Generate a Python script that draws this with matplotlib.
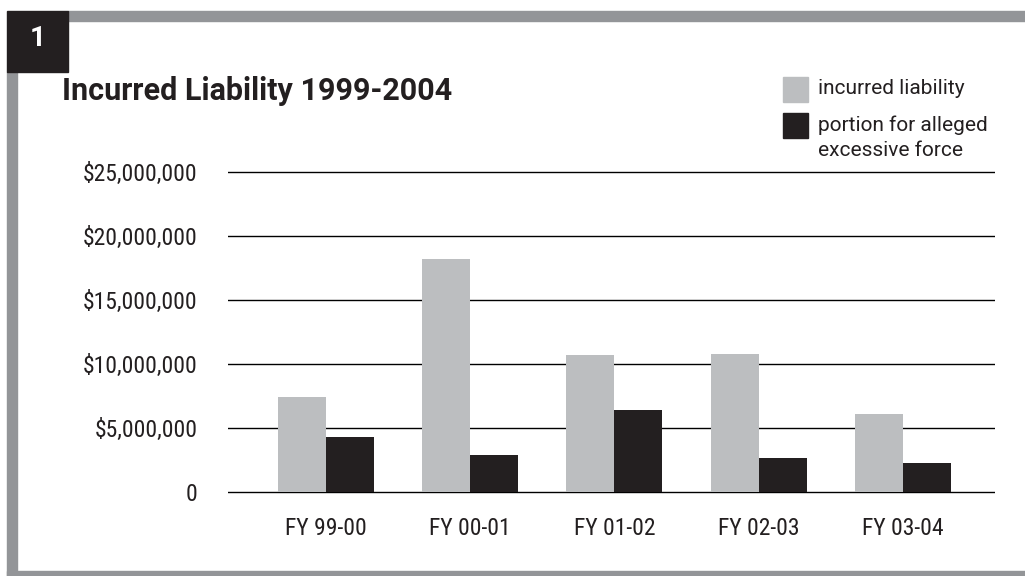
import matplotlib
matplotlib.use('Agg')
import matplotlib.pyplot as plt
from matplotlib.patches import Rectangle

years = ['FY 99-00', 'FY 00-01', 'FY 01-02', 'FY 02-03', 'FY 03-04']
incurred = [7.4e6, 18.2e6, 10.7e6, 10.8e6, 6.1e6]
excessive = [4.3e6, 2.9e6, 6.4e6, 2.65e6, 2.25e6]
yticks = [0, 5e6, 10e6, 15e6, 20e6, 25e6]
ytick_labels = ['0', r'\$5,000,000', r'\$10,000,000', r'\$15,000,000',
                r'\$20,000,000', r'\$25,000,000']
legend_labels = ['incurred liability', 'portion for alleged', 'excessive force']

plt.rcParams['font.family'] = ['Liberation Sans Narrow', 'Roboto Condensed', 'Roboto', 'DejaVu Sans']
wide = ['Roboto', 'DejaVu Sans']  # stands in for the letter-spaced headings

W, H = 1025, 576
light = '#bcbec0'
dark = '#231f20'
frame = '#939598'
txt = '#231f20'


def fx(x):
    return x / W


def fy(y):
    return 1 - y / H


fig = plt.figure(figsize=(W / 100, H / 100), dpi=100)

# gray frame + number box
fig.patches.append(Rectangle((fx(68), fy(21)), fx(W - 68), 10 / H, transform=fig.transFigure,
                             color=frame, zorder=0))
fig.patches.append(Rectangle((fx(7), 0), 10 / W, fy(72), transform=fig.transFigure,
                             color=frame, zorder=0))
fig.patches.append(Rectangle((fx(7), 0), fx(W - 7), 5 / H, transform=fig.transFigure,
                             color=frame, zorder=0))
fig.patches.append(Rectangle((fx(7), fy(72)), 61 / W, 61 / H, transform=fig.transFigure,
                             color=dark, zorder=1))
fig.text(fx(37.5), fy(39), '1', color='white', fontsize=20, fontweight='bold',
         ha='center', va='center', family=wide)

fig.text(fx(62), fy(91), 'Incurred Liability 1999-2004', color=txt, fontsize=22,
         fontweight='bold', ha='left', va='center', family=wide)

# legend drawn by hand
fig.patches.append(Rectangle((fx(783), fy(102)), 25 / W, 25 / H, transform=fig.transFigure,
                             color=light))
fig.patches.append(Rectangle((fx(783), fy(138)), 25 / W, 25 / H, transform=fig.transFigure,
                             color=dark))
fig.text(fx(818), fy(89), legend_labels[0], color=txt, fontsize=15, ha='left',
         va='center', family=wide)
fig.text(fx(818), fy(125), legend_labels[1], color=txt, fontsize=15, ha='left',
         va='center', family=wide)
fig.text(fx(818), fy(151), legend_labels[2], color=txt, fontsize=15, ha='left',
         va='center', family=wide)

# axes: x 228..995 px, y 0 at 492 px, 25M at 172 px (12.8 px per million)
ax = fig.add_axes([fx(228), fy(504.8), (995 - 228) / W, (504.8 - 159.2) / H])
ax.set_ylim(-1e6, 26e6)
ax.set_xlim(-0.68, 4.64)
bw = 0.333
xs = list(range(len(years)))
ax.bar([x - bw / 2 for x in xs], incurred, width=bw, color=light, zorder=3)
ax.bar([x + bw / 2 for x in xs], excessive, width=bw, color=dark, zorder=3)

ax.set_yticks(yticks)
ax.set_yticklabels(ytick_labels)
ax.set_xticks(xs)
ax.set_xticklabels(years)
ax.grid(axis='y', color='black', linewidth=1.0, zorder=0)
ax.set_axisbelow(True)
for s in ax.spines.values():
    s.set_visible(False)
ax.tick_params(axis='both', length=0, labelsize=17, colors=txt)
ax.tick_params(axis='y', pad=22)
ax.tick_params(axis='x', pad=9)

fig.savefig('out.png', dpi=100)
